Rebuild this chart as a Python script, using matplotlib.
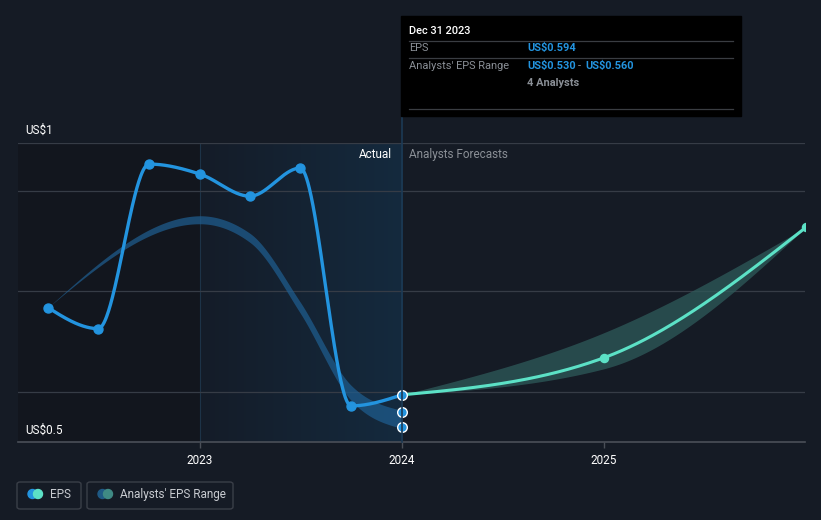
import numpy as np
import matplotlib.pyplot as plt
from matplotlib.patches import FancyBboxPatch, Rectangle, Ellipse

plt.rcParams['font.family'] = ['Roboto', 'DejaVu Sans']

# --- data ---
eps_x = [2022.247, 2022.496, 2022.748, 2023.0, 2023.247, 2023.496, 2023.748, 2024.0]
eps_y = [0.768, 0.726, 1.054, 1.034, 0.990, 1.046, 0.572, 0.594]

fc_x = [2024.0, 2025.0, 2026.0]
fc_y = [0.594, 0.668, 0.928]
fc_low = [0.594, 0.646, 0.928]
fc_high = [0.594, 0.718, 0.928]

past_x = [2022.247, 2023.0, 2023.247, 2023.496, 2023.748, 2024.0]
past_low = [0.768, 0.938, 0.901, 0.760, 0.586, 0.530]
past_high = [0.768, 0.948, 0.913, 0.776, 0.610, 0.560]

range_pts = [0.560, 0.530]

ticks = [2023, 2024, 2025]
grid_vals = [0.6, 0.8, 1.0, 1.096]

BG = '#151b25'
BLUE = '#2394df'
TEAL = '#5ce1c6'


def monotone(x, y, n=80):
    # d3 curveMonotoneX style smoothing
    x = np.asarray(x, float)
    y = np.asarray(y, float)
    h = np.diff(x)
    s = np.diff(y) / h
    t = np.zeros(len(x))
    for i in range(1, len(x) - 1):
        p = (s[i - 1] * h[i] + s[i] * h[i - 1]) / (h[i - 1] + h[i])
        t[i] = (np.sign(s[i - 1]) + np.sign(s[i])) * min(abs(s[i - 1]), abs(s[i]), 0.5 * abs(p))
    t[0] = (3 * s[0] - t[1]) / 2 if len(x) > 2 else s[0]
    t[-1] = (3 * s[-1] - t[-2]) / 2 if len(x) > 2 else s[-1]
    xs, ys = [], []
    for i in range(len(x) - 1):
        u = np.linspace(0, 1, n)
        h00 = 2 * u**3 - 3 * u**2 + 1
        h10 = u**3 - 2 * u**2 + u
        h01 = -2 * u**3 + 3 * u**2
        h11 = u**3 - u**2
        xs.append(x[i] + u * h[i])
        ys.append(h00 * y[i] + h10 * h[i] * t[i] + h01 * y[i + 1] + h11 * h[i] * t[i + 1])
    return np.concatenate(xs), np.concatenate(ys)


W, H = 821, 520
fig = plt.figure(figsize=(W / 100, H / 100), dpi=100)
fig.patch.set_facecolor(BG)

x0, x1 = 2022.099, 2025.995
y0, y1 = 0.5, 1.096
ax = fig.add_axes([18 / W, (H - 442) / H, (805 - 18) / W, (442 - 143) / H])
ax.set_facecolor(BG)
ax.set_xlim(x0, x1)
ax.set_ylim(y0, y1)
for sp in ax.spines.values():
    sp.set_visible(False)

# background zones
ax.axvspan(x0, 2023.0, color='#12161e', zorder=0)
grad = np.zeros((1, 200, 4))
c0 = np.array([0x14, 0x1c, 0x28]) / 255
c1 = np.array([0x15, 0x2a, 0x3e]) / 255
for i in range(200):
    f = i / 199
    grad[0, i, :3] = c0 * (1 - f) + c1 * f
    grad[0, i, 3] = 1
ax.imshow(grad, extent=[2023.0, 2024.0, y0, y1], aspect='auto', zorder=0.5)
ax.axvline(2023.0, color='#1d3347', lw=0.8, zorder=1)

for g in grid_vals:
    ax.axhline(g, color='#363c46', lw=0.9, zorder=1)
ax.axhline(y0, color='#4a4f58', lw=1.2, zorder=1, clip_on=False)

# past analyst range band
bx, bl = monotone(past_x, past_low)
_, bh = monotone(past_x, past_high)
pad = np.clip((bx - past_x[0]) / (past_x[1] - past_x[0]), 0, 1) * 0.003
ax.fill_between(bx, bl - pad, bh + pad, color='#1f5f92', alpha=0.7, lw=0, zorder=2)

# forecast band
fx, fl = monotone(fc_x, fc_low)
_, fh = monotone(fc_x, fc_high)
ax.fill_between(fx, fl, fh, color='#2e5a5a', alpha=0.75, lw=0, zorder=2)

# forecast line
lx, ly = monotone(fc_x, fc_y)
ax.plot(lx, ly, color=TEAL, lw=2.2, zorder=3, solid_capstyle='round')
ax.scatter(fc_x[1:], fc_y[1:], s=34, color=TEAL, zorder=4)

# EPS line
ex, ey = monotone(eps_x, eps_y)
ax.plot(ex, ey, color=BLUE, lw=2.4, zorder=5, solid_capstyle='round')
ax.scatter(eps_x[:-1], eps_y[:-1], s=42, color=BLUE, zorder=6)
ax.scatter([eps_x[-1]] + [2024.0] * len(range_pts), [eps_y[-1]] + range_pts, s=48,
           color=BLUE, edgecolor='white', linewidth=1.0, zorder=7, clip_on=False)

# x ticks
ax.set_xticks(ticks)
ax.set_xticklabels([str(t) for t in ticks])
ax.tick_params(axis='x', colors='#4a4f58', length=4, width=1, labelcolor='white',
               labelsize=8.5, pad=5)
ax.set_yticks([])

# text labels
fig.text(25 / W, 1 - 130 / H, 'US$1', color='white', fontsize=8.5, va='center', ha='left')
fig.text(25 / W, 1 - 430 / H, 'US$0.5', color='white', fontsize=8.5, va='center', ha='left')
fig.text(392 / W, 1 - 154 / H, 'Actual', color='white', fontsize=8.5, va='center', ha='right')
fig.text(409 / W, 1 - 154 / H, 'Analysts Forecasts', color='#8a8f96', fontsize=8.5,
         va='center', ha='left')

# vertical marker line and tooltip
fig.add_artist(plt.Line2D([402 / W, 402 / W], [1 - 442 / H, 1 - 116 / H], color='#1c3a55',
                          lw=1.2, zorder=1))
fig.add_artist(Rectangle((401 / W, 1 - 116 / H), 340 / W, 100 / H, color='#000000', zorder=5))
for yy in [41, 58, 109]:
    fig.add_artist(plt.Line2D([409 / W, 733 / W], [1 - yy / H, 1 - yy / H], color='#3a3d42',
                              lw=0.9, zorder=6))
fs = 7.9
fig.text(409 / W, 1 - 31 / H, 'Dec 31 2023', color='white', fontsize=fs, va='center',
         fontweight='medium', zorder=7)
fig.text(409 / W, 1 - 48 / H, 'EPS', color='#8a8f96', fontsize=fs, va='center', zorder=7)
fig.text(527 / W, 1 - 48 / H, 'US$0.594', color=BLUE, fontsize=fs, va='center',
         fontweight='bold', zorder=7)
fig.text(409 / W, 1 - 66 / H, "Analysts' EPS Range", color='#8a8f96', fontsize=fs,
         va='center', zorder=7)
fig.text(527 / W, 1 - 66 / H, 'US$0.530', color=BLUE, fontsize=fs, va='center',
         fontweight='bold', zorder=7)
fig.text(578 / W, 1 - 66 / H, '-', color='#8a8f96', fontsize=fs, va='center', zorder=7)
fig.text(585 / W, 1 - 66 / H, 'US$0.560', color=BLUE, fontsize=fs, va='center',
         fontweight='bold', zorder=7)
fig.text(527 / W, 1 - 83 / H, '4 Analysts', color='#8a8f96', fontsize=fs, va='center',
         fontweight='bold', zorder=7)

# legend
legend_items = [('EPS', 17, 81, BLUE, TEAL), ("Analysts' EPS Range", 87, 233, '#1f5a85', '#3f8a84')]
for label, lx0, lx1, ca, cb in legend_items:
    fig.add_artist(FancyBboxPatch((lx0 / W, 1 - 509 / H), (lx1 - lx0) / W, 27 / H,
                                  boxstyle='round,pad=0,rounding_size=0.004',
                                  facecolor='none', edgecolor='#3a3f48', lw=1))
    fig.add_artist(Ellipse(((lx0 + 15.5) / W, 1 - 494 / H), 9 / W, 9 / H, color=ca, zorder=3))
    fig.add_artist(Ellipse(((lx0 + 21) / W, 1 - 494 / H), 9 / W, 9 / H, color=cb, zorder=4))
    fig.text((lx0 + 33) / W, 1 - 494.5 / H, label, color='#c8cbd0', fontsize=8.5, va='center')

fig.savefig('out.png', dpi=100, facecolor=BG)
